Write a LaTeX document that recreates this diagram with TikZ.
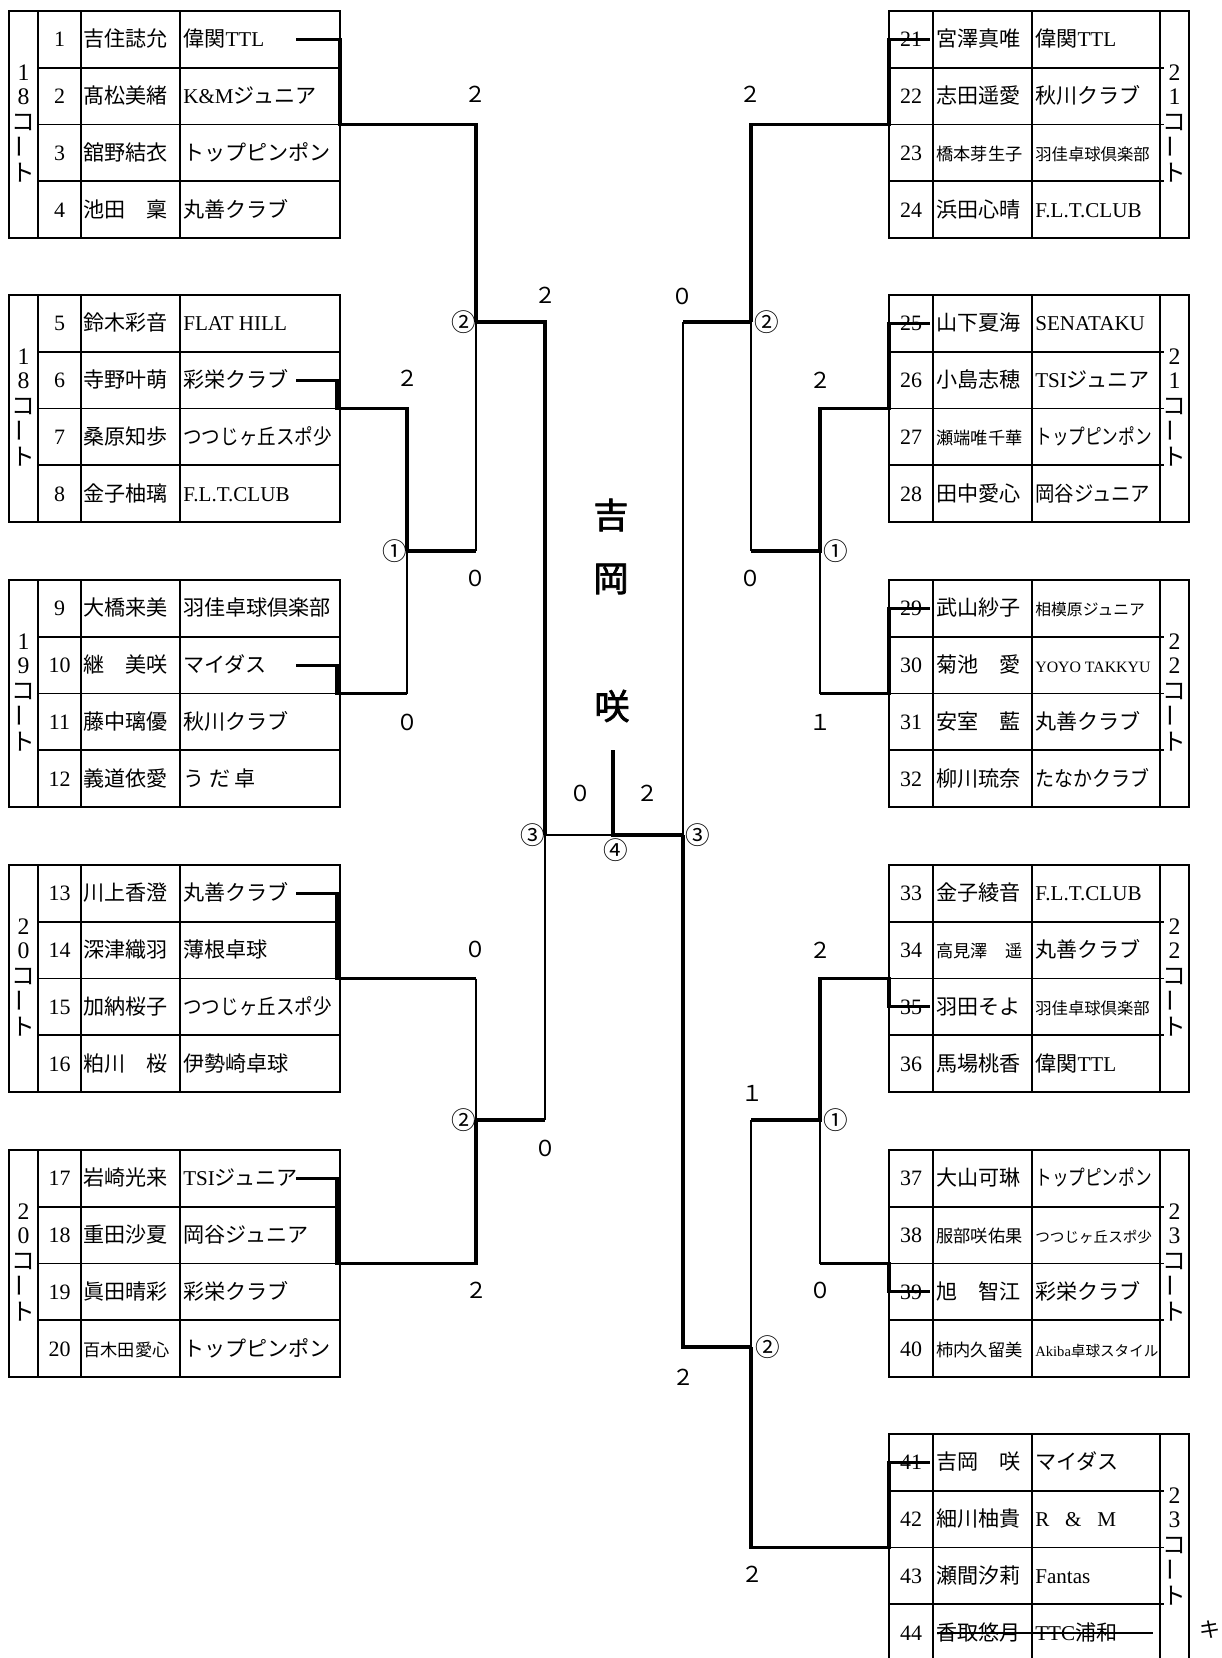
\documentclass[tikz,border=0pt]{standalone}
\usepackage{fontspec}
\usepackage{graphicx}
\setmainfont{Liberation Serif}
\newfontfamily\cjkf{Noto Sans CJK JP}
\newfontfamily\cjkbf{Noto Sans CJK JP}[FakeBold=2]
\newcommand\jp[1]{{\cjkf #1}}
\newcommand\smn{\fontsize{9.8}{11}\selectfont}
\newcommand\smc{\fontsize{9.3}{11}\selectfont}
\newcommand\xsc{\fontsize{8.3}{10}\selectfont}
\newcommand\hsc[2]{\scalebox{#1}[1]{#2}}
\newcommand\courtlab[5]{%
  \node[ct] (#1k1) at (#2,#3-52) {#4};
  \node[ct] (#1k2) at (#2,#3-28) {#5};
  \node[ct] (#1k3) at (#2,#3-2) {\cjkf コ};
  \node[ct] (#1k4) at (#2,#3+22) {\rotatebox{90}{\cjkf ー}};
  \node[ct] (#1k5) at (#2,#3+48) {\cjkf ト};
}
\newcommand\ltab[4]{%
  \draw[tbl] (9,#2) rectangle (340,#2+227);
  \draw[tbl] (38,#2) -- (38,#2+227) (81,#2) -- (81,#2+227) (180,#2) -- (180,#2+227)
    (38,#2+56.75) -- (340,#2+56.75) (38,#2+113.5) -- (340,#2+113.5) (38,#2+170.25) -- (340,#2+170.25);
  \courtlab{#1}{23.5}{#2+113.5}{#3}{#4}
}
\newcommand\rtab[4]{%
  \draw[tbl] (889,#2) rectangle (1189,#2+227);
  \draw[tbl] (933,#2) -- (933,#2+227) (1032,#2) -- (1032,#2+227) (1160,#2) -- (1160,#2+227)
    (889,#2+56.75) -- (1164,#2+56.75) (889,#2+113.5) -- (1164,#2+113.5) (889,#2+170.25) -- (1164,#2+170.25);
  \courtlab{#1}{1174.5}{#2+113.5}{#3}{#4}
}
\newcommand\lrow[4]{%
  \node[num] (n#1) at (59.5,#2+7.5) {#1};
  \node[nm] (m#1) at (83,#2+7.5) {#3};
  \node[cb] (c#1) at (183,#2+7.5) {#4};
}
\newcommand\rrow[4]{%
  \node[num] (n#1) at (911,#2+7.5) {#1};
  \node[nm] (m#1) at (936,#2+7.5) {#3};
  \node[cb] (c#1) at (1035,#2+7.5) {#4};
}
\begin{document}
\begin{tikzpicture}[x=0.02cm,y=-0.02cm,
  tbl/.style={line width=1.1pt},
  win/.style={line width=1.8pt},
  lose/.style={line width=0.8pt},
  num/.style={anchor=base,inner sep=0pt,font=\fontsize{12.5}{14}\selectfont},
  nm/.style={anchor=base west,inner sep=0pt,font=\cjkf\fontsize{12}{14}\selectfont},
  cb/.style={anchor=base west,inner sep=0pt,font=\fontsize{12}{14}\selectfont},
  ct/.style={anchor=center,inner sep=0pt,font=\fontsize{13.5}{15}\selectfont},
  sc/.style={anchor=center,inner sep=0pt,font=\cjkf\fontsize{12.5}{14}\selectfont},
  cn/.style={anchor=center,inner sep=0pt,font=\cjkf\fontsize{14}{16}\selectfont},
  big/.style={anchor=center,inner sep=0pt,font=\cjkbf\fontsize{20}{24}\selectfont}]
\useasboundingbox[fill=white] (0,0) rectangle (1222,1658);

% ---------- tables ----------
\ltab{LA}{11}{1}{8}
\ltab{LB}{295}{1}{8}
\ltab{LC}{580}{1}{9}
\ltab{LD}{865}{2}{0}
\ltab{LE}{1150}{2}{0}
\rtab{RA}{11}{2}{1}
\rtab{RB}{295}{2}{1}
\rtab{RC}{580}{2}{2}
\rtab{RD}{865}{2}{2}
\rtab{RE}{1150}{2}{3}
\rtab{RF}{1434}{2}{3}

\lrow{1}{39.4}{吉住誌允}{\jp{偉関}TTL}
\lrow{2}{96.1}{髙松美緒}{K\&M\jp{ジュニア}}
\lrow{3}{152.9}{舘野結衣}{\jp{トップピンポン}}
\lrow{4}{209.6}{池田　稟}{\jp{丸善クラブ}}
\lrow{5}{323.4}{鈴木彩音}{FLAT HILL}
\lrow{6}{380.1}{寺野叶萌}{\jp{彩栄クラブ}}
\lrow{7}{436.9}{桑原知歩}{\hsc{0.88}{\jp{つつじヶ丘スポ少}}}
\lrow{8}{493.6}{金子柚璃}{F.L.T.CLUB}
\lrow{9}{608.4}{大橋来美}{\jp{羽佳卓球倶楽部}}
\lrow{10}{665.1}{継　美咲}{\jp{マイダス}}
\lrow{11}{721.9}{藤中璃優}{\jp{秋川クラブ}}
\lrow{12}{778.6}{義道依愛}{\jp{う だ 卓}}
\lrow{13}{893.4}{川上香澄}{\jp{丸善クラブ}}
\lrow{14}{950.1}{深津織羽}{\jp{薄根卓球}}
\lrow{15}{1006.9}{加納桜子}{\hsc{0.88}{\jp{つつじヶ丘スポ少}}}
\lrow{16}{1063.6}{粕川　桜}{\jp{伊勢崎卓球}}
\lrow{17}{1178.4}{岩崎光来}{TSI\jp{ジュニア}}
\lrow{18}{1235.1}{重田沙夏}{\jp{岡谷ジュニア}}
\lrow{19}{1291.9}{眞田晴彩}{\jp{彩栄クラブ}}
\lrow{20}{1348.6}{\smn 百木田愛心}{\jp{トップピンポン}}

\rrow{21}{39.4}{宮澤真唯}{\jp{偉関}TTL}
\rrow{22}{96.1}{志田遥愛}{\jp{秋川クラブ}}
\rrow{23}{152.9}{\smn 橋本芽生子}{\smc\jp{羽佳卓球倶楽部}}
\rrow{24}{209.6}{浜田心晴}{F.L.T.CLUB}
\rrow{25}{323.4}{山下夏海}{SENATAKU}
\rrow{26}{380.1}{小島志穂}{TSI\jp{ジュニア}}
\rrow{27}{436.9}{\smn 瀬端唯千華}{\hsc{0.79}{\jp{トップピンポン}}}
\rrow{28}{493.6}{田中愛心}{\hsc{0.92}{\jp{岡谷ジュニア}}}
\rrow{29}{608.4}{武山紗子}{\fontsize{9}{10}\selectfont\jp{相模原ジュニア}}
\rrow{30}{665.1}{菊池　愛}{\fontsize{9}{10}\selectfont YOYO TAKKYU}
\rrow{31}{721.9}{安室　藍}{\jp{丸善クラブ}}
\rrow{32}{778.6}{柳川琉奈}{\hsc{0.9}{\jp{たなかクラブ}}}
\rrow{33}{893.4}{金子綾音}{F.L.T.CLUB}
\rrow{34}{950.1}{\smn 高見澤　遥}{\jp{丸善クラブ}}
\rrow{35}{1006.9}{羽田そよ}{\smc\jp{羽佳卓球倶楽部}}
\rrow{36}{1063.6}{馬場桃香}{\jp{偉関}TTL}
\rrow{37}{1178.4}{大山可琳}{\hsc{0.79}{\jp{トップピンポン}}}
\rrow{38}{1235.1}{\smn 服部咲佑果}{\xsc\jp{つつじヶ丘スポ少}}
\rrow{39}{1291.9}{旭　智江}{\jp{彩栄クラブ}}
\rrow{40}{1348.6}{\smn 柿内久留美}{\xsc Akiba\jp{卓球スタイル}}
\rrow{41}{1462.4}{吉岡　咲}{\jp{マイダス}}
\rrow{42}{1519.1}{細川柚貴}{R\hspace{9pt}\&\hspace{9pt}M}
\rrow{43}{1575.9}{瀬間汐莉}{Fantas}
\rrow{44}{1632.6}{香取悠月}{TTC\jp{浦和}}

% ---------- junctions ----------
\coordinate (L1) at (407,551);
\coordinate (L2t) at (476,322);
\coordinate (L2b) at (476,1120);
\coordinate (L3) at (545,835);
\coordinate (F) at (613,835);
\coordinate (Ftop) at (613,750);
\coordinate (R3) at (683,835);
\coordinate (R2t) at (751,322);
\coordinate (R1t) at (820,551);
\coordinate (R2b) at (751,1347);
\coordinate (R1b) at (820,1120);
\coordinate (s1) at (296,39.4);
\coordinate (s6) at (296,380.1);
\coordinate (s10) at (296,665.1);
\coordinate (s13) at (296,893.4);
\coordinate (s17) at (296,1178.4);
\coordinate (r21) at (930,39.4);
\coordinate (r25) at (930,323.4);
\coordinate (r29) at (930,608.4);
\coordinate (r35) at (930,1006.9);
\coordinate (r39) at (930,1291.9);
\coordinate (r41) at (930,1462.4);
\coordinate (k1) at (937,1633);
\coordinate (k2) at (1153,1633);

% ---------- left bracket ----------
\draw[win] (s1) -- (340,39.4) -- (340,124.5) -| (L2t);
\draw[win] (s6) -- (337,380.1) -- (337,408.5) -| (L1);
\draw[win] (s10) -- (337,665.1) -- (337,693.5) -- (407,693.5);
\draw[lose] (407,693.5) -- (L1);
\draw[win] (L1) -- (476,551);
\draw[lose] (476,551) -- (L2t);
\draw[win] (L2t) -- (545,322) -- (L3);
\draw[win] (s13) -- (337,893.4) -- (337,978.5) -- (476,978.5);
\draw[lose] (476,978.5) -- (L2b);
\draw[win] (s17) -- (337,1178.4) -- (337,1263.5) -| (L2b);
\draw[win] (L2b) -- (545,1120);
\draw[lose] (545,1120) -- (L3);
\draw[lose] (L3) -- (F);
\draw[win] (Ftop) -- (F) -- (R3);

% ---------- right bracket ----------
\draw[lose] (R3) -- (683,322);
\draw[win] (683,322) -- (R2t);
\draw[win] (R3) -- (683,1347) -- (R2b);
\draw[win] (R2t) -- (751,124.5) -- (889,124.5) -- (889,39.4) -- (r21);
\draw[lose] (R2t) -- (751,551);
\draw[win] (751,551) -- (R1t) -- (820,408.5) -- (889,408.5) -- (889,323.4) -- (r25);
\draw[lose] (R1t) -- (820,693.5);
\draw[win] (820,693.5) -- (889,693.5) -- (889,608.4) -- (r29);
\draw[lose] (R2b) -- (751,1120);
\draw[win] (751,1120) -- (R1b) -- (820,978.5) -- (889,978.5) -- (889,1006.9) -- (r35);
\draw[lose] (R1b) -- (820,1263.5);
\draw[win] (820,1263.5) -- (889,1263.5) -- (889,1291.9) -- (r39);
\draw[win] (R2b) -- (751,1547.5) -- (889,1547.5) -- (889,1462.4) -- (r41);
\draw[line width=0.7pt] (k1) -- (k2);

% ---------- scores ----------
\node[sc] (a1) at (475,94) {２};
\node[sc] (a2) at (475,578) {０};
\node[sc] (a3) at (407,378) {２};
\node[sc] (a4) at (407,722) {０};
\node[sc] (a5) at (545,295) {２};
\node[sc] (a6) at (475,949) {０};
\node[sc] (a7) at (476,1290) {２};
\node[sc] (a8) at (545,1148) {０};
\node[sc] (a9) at (580,793) {０};
\node[sc] (a10) at (647,793) {２};
\node[sc] (a11) at (750,94) {２};
\node[sc] (a12) at (750,578) {０};
\node[sc] (a13) at (682,296) {０};
\node[sc] (a14) at (820,380) {２};
\node[sc] (a15) at (820,722) {１};
\node[sc] (a16) at (820,950) {２};
\node[sc] (a17) at (820,1290) {０};
\node[sc] (a18) at (752,1093) {１};
\node[sc] (a19) at (752,1574) {２};
\node[sc] (a20) at (683,1377) {２};

% ---------- round marks ----------
\node[cn] (b1) at (395,551) {①};
\node[cn] (b2) at (464,322) {②};
\node[cn] (b3) at (464,1120) {②};
\node[cn] (b4) at (533,835) {③};
\node[cn] (b5) at (616,850) {④};
\node[cn] (b6) at (698,835) {③};
\node[cn] (b7) at (767,322) {②};
\node[cn] (b8) at (836,551) {①};
\node[cn] (b9) at (836,1120) {①};
\node[cn] (b10) at (768,1347) {②};

% ---------- winner ----------
\node[big] (w1) at (611,515) {吉};
\node[big] (w2) at (611,579) {岡};
\node[big] (w3) at (612,706) {咲};

\node[anchor=center,inner sep=0pt,font=\cjkf\fontsize{12}{14}\selectfont] (ki) at (1210,1630) {キ};
\end{tikzpicture}
\end{document}
